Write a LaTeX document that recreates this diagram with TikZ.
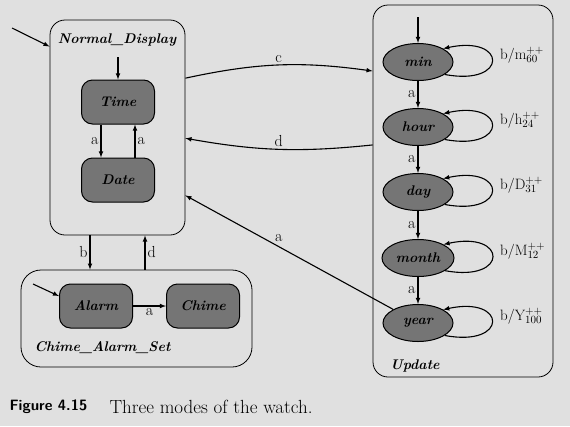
\documentclass[tikz,border=0pt]{standalone}
\usetikzlibrary{arrows,positioning,shapes.geometric}
\usepackage{xcolor}

\definecolor{paper}{gray}{0.88}
\definecolor{statefill}{gray}{0.46}

\tikzset{
    >=latex,
    arr/.style={->, line width=1.1pt},
    mode/.style={draw, line width=0.8pt, rounded corners=15pt},
    modelabel/.style={font=\fontsize{14}{16}\selectfont\bfseries\itshape},
    state/.style={draw, line width=1pt, fill=statefill, rounded corners=11pt,
        minimum width=73pt, minimum height=44pt, font=\fontsize{14}{16}\selectfont\bfseries\itshape},
    slot/.style={draw, line width=1pt, fill=statefill, ellipse,
        minimum width=70pt, minimum height=37pt, font=\fontsize{14}{16}\selectfont\bfseries\itshape},
    looplab/.style={font=\fontsize{15}{17}\selectfont, anchor=west, inner sep=1pt},
    edgelab/.style={font=\fontsize{16}{18}\selectfont, inner sep=2pt}
}

\begin{document}
\begin{tikzpicture}[x=1pt,y=-1pt]
        \fill[paper] (0,0) rectangle (570,426);
        \useasboundingbox (0,0) rectangle (570,426);

        % the three modes
        \node[mode, minimum width=135pt, minimum height=215pt] (normal) at (117.5,127.5) {};
        \node[modelabel] (normallab) at (117,40) {Normal\_Display};
        \node[mode, rounded corners=20pt, minimum width=231pt, minimum height=97pt] (alarmset) at (136.5,318.5) {};
        \node[modelabel, anchor=west] (alarmsetlab) at (31,348) {Chime\_Alarm\_Set};
        \node[mode, minimum width=180pt, minimum height=372pt] (update) at (463,191) {};
        \node[modelabel] (updatelab) at (415,366) {Update};

        % states
        \node[state] (time) at (118,102) {Time};
        \node[state] (date) at (118,180) {Date};
        \node[state] (alarm) at (96,306) {Alarm};
        \node[state] (chime) at (203,306) {Chime};

        \node[slot] (min) at (418,62) {min};
        \node[slot] (hour) at (418,127) {hour};
        \node[slot] (day) at (418,192) {day};
        \node[slot] (month) at (418,258) {month};
        \node[slot] (year) at (418,323) {year};

        % default entries
        \coordinate (normalin) at (12,28);
        \coordinate (timein) at (118,57);
        \coordinate (alarmin) at (33,284);
        \coordinate (minin) at (418,17);
        \draw[arr] (normalin) -- (normal.130);
        \draw[arr] (timein) -- (time.north);
        \draw[arr] (alarmin) -- (alarm.165);
        \draw[arr] (minin) -- (min.north);

        % inside Normal_Display
        \draw[arr] ([xshift=-17pt]time.south) -- node[edgelab, left] {a} ([xshift=-17pt]date.north);
        \draw[arr] ([xshift=17pt]date.north) -- node[edgelab, right] {a} ([xshift=17pt]time.south);

        % inside Chime_Alarm_Set
        \draw[arr] (alarm.east) -- node[edgelab, below] {a} (chime.west);

        % between the modes
        \draw[arr] ([xshift=-27.5pt]normal.south) -- node[edgelab, left] {b} ([xshift=-46.5pt]alarmset.north);
        \draw[arr] ([xshift=8.5pt]alarmset.north) -- node[edgelab, right] {d} ([xshift=27.5pt]normal.south);
        \draw[arr] (normal.36) to[bend left=10] node[edgelab, above] {c} (update.127);
        \draw[arr] (update.153) to[bend left=8] node[edgelab, above] {d} (normal.-9);
        \draw[arr] (year) -- node[edgelab, pos=0.55, above=3pt] {a} (normal.-45);

        % inside Update
        \draw[arr] (min) -- node[edgelab, left] {a} (hour);
        \draw[arr] (hour) -- node[edgelab, left] {a} (day);
        \draw[arr] (day) -- node[edgelab, left] {a} (month);
        \draw[arr] (month) -- node[edgelab, left] {a} (year);

        \draw[arr] (min.-25) .. controls +(64,12) and +(64,-14) .. (min.28);
        \draw[arr] (hour.-25) .. controls +(64,12) and +(64,-14) .. (hour.28);
        \draw[arr] (day.-25) .. controls +(64,12) and +(64,-14) .. (day.28);
        \draw[arr] (month.-25) .. controls +(64,12) and +(64,-14) .. (month.28);
        \draw[arr] (year.-25) .. controls +(64,12) and +(64,-14) .. (year.28);

        \node[looplab] (minlab) at (499,55) {b/m$^{++}_{60}$};
        \node[looplab] (hourlab) at (499,120) {b/h$^{++}_{24}$};
        \node[looplab] (daylab) at (499,185) {b/D$^{++}_{31}$};
        \node[looplab] (monthlab) at (499,251) {b/M$^{++}_{12}$};
        \node[looplab] (yearlab) at (499,316) {b/Y$^{++}_{100}$};

        % caption
        \node[anchor=west, font=\fontsize{15}{17}\selectfont\sffamily\bfseries] (fignum) at (6,407) {Figure 4.15};
        \node[anchor=west, font=\fontsize{19}{21}\selectfont] (figtext) at (106,407) {Three modes of the watch.};
\end{tikzpicture}
\end{document}
